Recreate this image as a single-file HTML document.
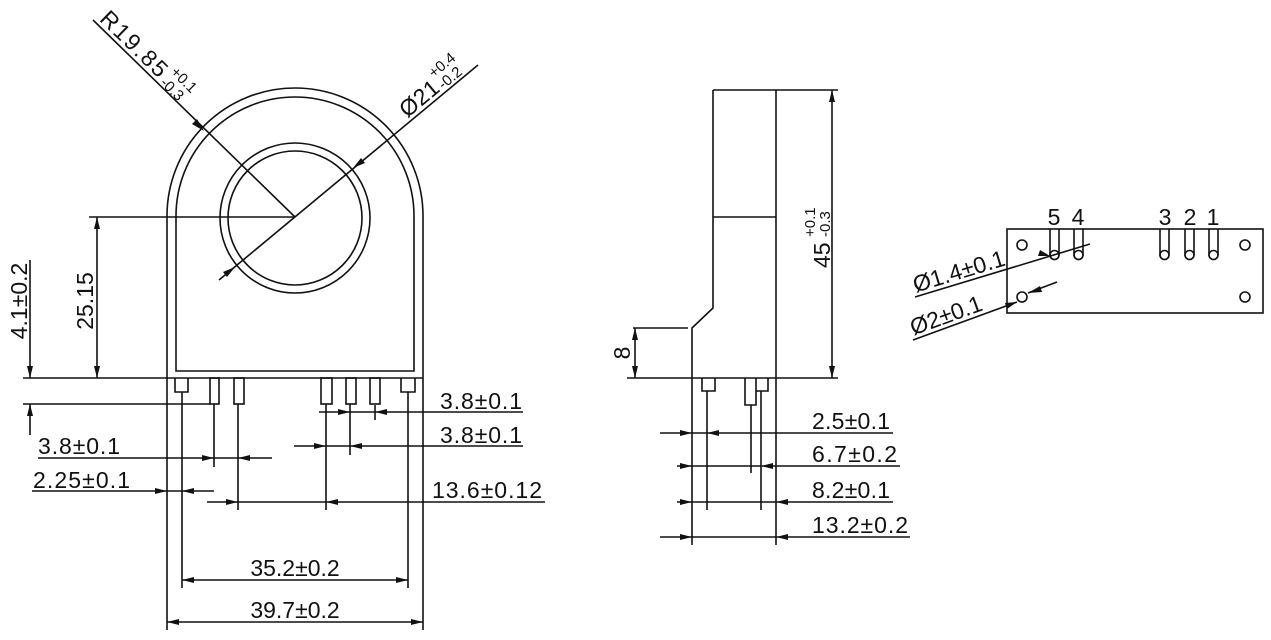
<!DOCTYPE html>
<html><head><meta charset="utf-8"><style>
html,body{margin:0;padding:0;background:#fff;}
svg{display:block}
text{font-family:"Liberation Sans",sans-serif;fill:#111;}
</style></head><body>
<svg width="1271" height="640" viewBox="0 0 1271 640" xmlns="http://www.w3.org/2000/svg">
<g stroke="#111" stroke-width="1.6" fill="none">
<path d="M167,630 L167,216 A128,128 0 0 1 423,216 L423,630"/>
<path d="M176,371 L176,216 A119,119 0 0 1 414,216 L414,371 Z"/>
<circle cx="295" cy="218" r="75"/>
<circle cx="295" cy="218" r="67"/>
<line x1="23" y1="378" x2="423" y2="378"/>
<path d="M175,378 V392 H188 V378"/>
<path d="M401,378 V392 H415 V378"/>
<rect x="210" y="378" width="9" height="26"/>
<rect x="234" y="378" width="10" height="26"/>
<rect x="321" y="378" width="11" height="26"/>
<rect x="346" y="378" width="10" height="26"/>
<rect x="370" y="378" width="10" height="26"/>
<line x1="182" y1="392" x2="182" y2="588"/>
<line x1="408" y1="392" x2="408" y2="588"/>
<line x1="214" y1="404" x2="214" y2="467"/>
<line x1="238" y1="404" x2="238" y2="510"/>
<line x1="326" y1="404" x2="326" y2="510"/>
<line x1="350" y1="404" x2="350" y2="455"/>
<line x1="375" y1="405" x2="375" y2="420"/>
<line x1="23" y1="404" x2="210" y2="404"/>
<line x1="89" y1="217" x2="295" y2="217"/>
<line x1="97" y1="217" x2="97" y2="378"/>
<line x1="30" y1="260" x2="30" y2="378"/>
<line x1="30" y1="404" x2="30" y2="435"/>
<line x1="319" y1="412" x2="523" y2="412"/>
<line x1="294" y1="446" x2="523" y2="446"/>
<line x1="38" y1="458" x2="272" y2="458"/>
<line x1="32" y1="491" x2="214" y2="491"/>
<line x1="207" y1="502" x2="545" y2="502"/>
<line x1="182" y1="580" x2="408" y2="580"/>
<line x1="167" y1="622" x2="423" y2="622"/>
<line x1="93" y1="20" x2="295" y2="217"/>
<line x1="478" y1="65" x2="219" y2="280"/>

<path d="M713,90 L713,308 L692,328 L692,545"/>
<line x1="776" y1="90" x2="776" y2="545"/>
<line x1="713" y1="90" x2="838" y2="90"/>
<line x1="713" y1="217" x2="776" y2="217"/>
<line x1="627" y1="378" x2="838" y2="378"/>
<line x1="633" y1="328" x2="688" y2="328"/>
<line x1="635" y1="328" x2="635" y2="378"/>
<line x1="832" y1="90" x2="832" y2="378"/>
<path d="M702,378 V391 H715 V378"/>
<path d="M745,378 V405 H756 V378"/>
<path d="M756,391 H768 V378"/>
<line x1="707" y1="391" x2="707" y2="510"/>
<line x1="751" y1="405" x2="751" y2="473"/>
<line x1="761" y1="391" x2="761" y2="510"/>
<line x1="660" y1="433" x2="893" y2="433"/>
<line x1="677" y1="466" x2="900" y2="466"/>
<line x1="677" y1="502" x2="893" y2="502"/>
<line x1="660" y1="537" x2="910" y2="537"/>

<rect x="1007" y="229" width="256" height="84"/>
<circle cx="1022" cy="245" r="5"/>
<circle cx="1245" cy="245" r="5"/>
<circle cx="1022" cy="297" r="5"/>
<circle cx="1245" cy="297" r="5"/>
<path d="M1050,229 V255 A4.5,4.5 0 0 0 1059,255 V229"/>
<path d="M1074,229 V255 A4.5,4.5 0 0 0 1083,255 V229"/>
<path d="M1160,229 V255 A4.5,4.5 0 0 0 1169,255 V229"/>
<path d="M1185,229 V255 A4.5,4.5 0 0 0 1194,255 V229"/>
<path d="M1209,229 V255 A4.5,4.5 0 0 0 1218,255 V229"/>
<circle cx="1054.5" cy="255" r="4.5"/>
<circle cx="1078.5" cy="255" r="4.5"/>
<circle cx="1164.5" cy="255" r="4.5"/>
<circle cx="1189.5" cy="255" r="4.5"/>
<circle cx="1213.5" cy="255" r="4.5"/>
<line x1="915" y1="297" x2="1090" y2="244"/>
<line x1="913" y1="340" x2="1017" y2="302"/>
<line x1="1028" y1="293" x2="1057" y2="282"/>
</g>

<g fill="#111" stroke="none">
<polygon points="97,217 94,229 100,229"/>
<polygon points="97,378 94,366 100,366"/>
<polygon points="30,378 27,366 33,366"/>
<polygon points="30,404 27,416 33,416"/>
<polygon points="350,412 338,409 338,415"/>
<polygon points="375,412 387,409 387,415"/>
<polygon points="326,446 314,443 314,449"/>
<polygon points="350,446 362,443 362,449"/>
<polygon points="214,458 202,455 202,461"/>
<polygon points="238,458 250,455 250,461"/>
<polygon points="167,491 155,488 155,494"/>
<polygon points="182,491 194,488 194,494"/>
<polygon points="238,502 226,499 226,505"/>
<polygon points="326,502 338,499 338,505"/>
<polygon points="182,580 194,577 194,583"/>
<polygon points="408,580 396,577 396,583"/>
<polygon points="167,622 179,619 179,625"/>
<polygon points="423,622 411,619 411,625"/>
<polygon points="204,131 192,124 197,119"/>
<polygon points="353,168 361,158 365,163"/>
<polygon points="235,267 227,277 223,272"/>
<polygon points="832,90 829,102 835,102"/>
<polygon points="832,378 829,366 835,366"/>
<polygon points="635,328 632,340 638,340"/>
<polygon points="635,378 632,366 638,366"/>
<polygon points="692,433 680,430 680,436"/>
<polygon points="707,433 719,430 719,436"/>
<polygon points="692,466 680,463 680,469"/>
<polygon points="761,466 773,463 773,469"/>
<polygon points="692,502 680,499 680,505"/>
<polygon points="776,502 788,499 788,505"/>
<polygon points="692,537 680,534 680,540"/>
<polygon points="776,537 788,534 788,540"/>
<polygon points="1050,256 1038,256 1040,250"/>
<polygon points="1017,302 1007,309 1005,303"/>
<polygon points="1028,293 1040,286 1042,292"/>
</g>

<g font-size="23">
<text x="440" y="409" textLength="82">3.8±0.1</text>
<text x="440" y="443" textLength="82">3.8±0.1</text>
<text x="38" y="454" textLength="82">3.8±0.1</text>
<text x="33" y="488" textLength="97">2.25±0.1</text>
<text x="432" y="498" textLength="110">13.6±0.12</text>
<text x="295" y="576" text-anchor="middle">35.2±0.2</text>
<text x="295" y="618" text-anchor="middle">39.7±0.2</text>
<text transform="translate(93,301) rotate(-90)" text-anchor="middle">25.15</text>
<text transform="translate(27,301) rotate(-90)" text-anchor="middle">4.1±0.2</text>
<text x="812" y="429" textLength="78">2.5±0.1</text>
<text x="812" y="462" textLength="85">6.7±0.2</text>
<text x="812" y="498" textLength="78">8.2±0.1</text>
<text x="812" y="533" textLength="96">13.2±0.2</text>
<text transform="translate(630,353) rotate(-90)" text-anchor="middle">8</text>
<text transform="translate(830,268) rotate(-90)">45</text>
<text transform="translate(815,237) rotate(-90)" font-size="15">+0.1</text>
<text transform="translate(830,237) rotate(-90)" font-size="15">-0.3</text>
<text x="1054" y="225" text-anchor="middle">5</text>
<text x="1078" y="225" text-anchor="middle">4</text>
<text x="1165" y="225" text-anchor="middle">3</text>
<text x="1190" y="225" text-anchor="middle">2</text>
<text x="1213" y="225" text-anchor="middle">1</text>
<g transform="translate(915,297) rotate(-16.85)"><text x="2" y="-4" textLength="95">Ø1.4±0.1</text></g>
<g transform="translate(913,340) rotate(-20)"><text x="2" y="-4" textLength="75">Ø2±0.1</text></g>
<g transform="translate(93,20) rotate(44.4)">
<text x="4" y="-4" textLength="84">R19.85</text>
<text x="92" y="-16" font-size="15">+0.1</text>
<text x="92" y="-1" font-size="15">-0.3</text>
</g>
<g transform="translate(219,280) rotate(-39.7)">
<text x="248" y="-4" textLength="44">Ø21</text>
<text x="294" y="-18" font-size="15">+0.4</text>
<text x="294" y="-3" font-size="15">-0.2</text>
</g>
</g>
</svg>
</body></html>
